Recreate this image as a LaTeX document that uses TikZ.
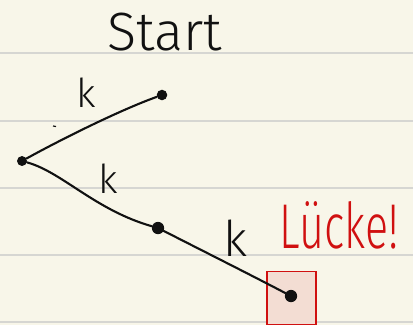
\documentclass[tikz,border=0pt]{standalone}
\usepackage{fontspec}
\setmainfont{Fira Sans Light}
\usetikzlibrary{positioning}
\definecolor{paper}{HTML}{F8F6E9}
\definecolor{rule}{HTML}{D6D6D2}
\definecolor{ink}{HTML}{111111}
\definecolor{mark}{HTML}{D01010}
\definecolor{markfill}{HTML}{F3DDD3}
\begin{document}
\begin{tikzpicture}[x=0.03cm, y=-0.03cm,
            dot/.style={circle, fill=ink, inner sep=0pt, minimum size=#1},
            edge/.style={draw=ink, line width=1.8pt, line cap=round},
            lbl/.style={text=ink, inner sep=0pt, font=\fontsize{34}{34}\selectfont}]
            \fill[paper] (0,0) rectangle (413,325);
            \useasboundingbox (0,0) rectangle (413,325);
            \foreach \y in {53,121,188,255,322}
                \draw[rule, line width=1.5pt] (0,\y) -- (413,\y);
            \node[draw=mark, fill=markfill, line width=1.3pt, minimum width=1.47cm, minimum height=1.6cm] (gap) at (291.5,298) {};
            \node[dot=8.5pt] (root) at (22,161) {};
            \node[dot=9pt] (up) at (162,95) {};
            \node[dot=10.5pt] (mid) at (158,228) {};
            \node[dot=10.5pt] (end) at (291,296) {};
            \draw[edge] (root) .. controls (60,140) and (120,110) .. (up);
            \draw[edge] (root) .. controls (62,172) and (95,210) .. (mid);
            \draw[edge] (mid) .. controls (205,252) and (245,272) .. (end);
            \draw[ink, line width=1pt] (53,126) -- (56,126.5);
            \node[lbl, font=\fontsize{46}{46}\selectfont] (start) at (165,32) {Start};
            \node[lbl] (k1) at (86,93) {k};
            \node[lbl] (k2) at (108,179) {k};
            \node[lbl, font=\fontsize{42}{42}\selectfont] (k3) at (236,238) {k};
            \node[lbl, text=mark, font=\fontsize{54}{54}\selectfont] (gaplbl) at (339,225) {\scalebox{0.68}[1]{Lücke!}};
        \end{tikzpicture}
\end{document}
